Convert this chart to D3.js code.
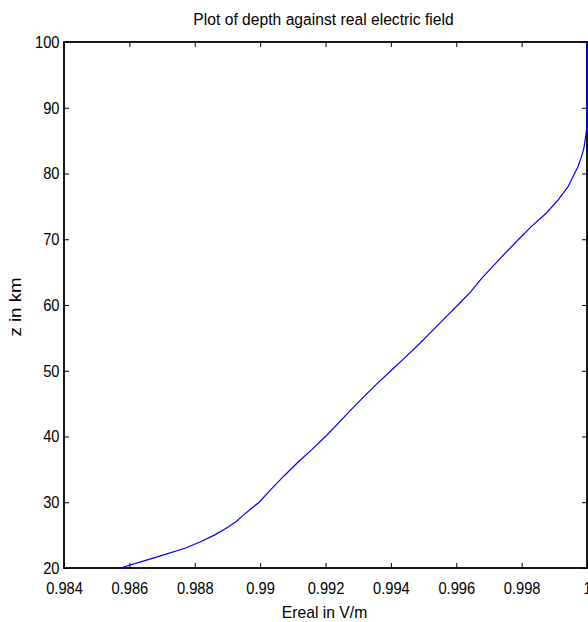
<!DOCTYPE html>
<html>
<head>
<meta charset="utf-8">
<script src="https://cdn.jsdelivr.net/npm/d3@7"></script>
<style>
  body { margin: 0; background: #fff; }
  svg { display: block; }
  text { font-family: "Liberation Sans", Arial, sans-serif; fill: #000; }
  .tick text { font-size: 17px; }
</style>
</head>
<body>
<svg id="chart" width="588" height="622"></svg>
<script>
// depth (km) and real electric field (V/m)
const depth = [20, 21, 22, 23, 24, 25, 26, 27, 28, 29, 30, 32, 34, 36, 38, 40,
    42, 44, 46, 48, 50, 52, 54, 56, 58, 60, 62, 64, 66, 68, 70, 72, 74, 76, 78,
    80, 81, 82, 83, 84, 85, 86, 87, 88, 90, 95, 100];
const ereal = [0.98572, 0.98640, 0.98705, 0.98770, 0.98818, 0.98860, 0.98895, 0.98925,
    0.98948, 0.98972, 0.98997, 0.99034, 0.99073, 0.99114, 0.99158, 0.99200,
    0.99239, 0.99277, 0.99316, 0.99357, 0.99400, 0.99443, 0.99485, 0.99525, 0.99565,
    0.99605, 0.99644, 0.99677, 0.99714, 0.99752, 0.99791, 0.99831, 0.99876, 0.99912,
    0.99942, 0.99962, 0.99972, 0.99979, 0.99986, 0.99991, 0.99994, 0.99997, 0.99999,
    1.0, 1.0, 1.0, 1.0];

const xTicks = [0.984, 0.986, 0.988, 0.99, 0.992, 0.994, 0.996, 0.998, 1];
const yTicks = [20, 30, 40, 50, 60, 70, 80, 90, 100];

const TITLE = 'Plot of depth against real electric field';
const X_LABEL = 'Ereal in V/m';
const Y_LABEL = 'z in km';

const TICK_SX = 0.865; // tick labels are a little narrow in the original
const margin = { left: 64, right: 1, top: 42, bottom: 54 };
const W = 588, H = 622;

const svg = d3.select('#chart');

const x = d3.scaleLinear()
    .domain([0.984, 1])
    .range([margin.left, W - margin.right]);
const y = d3.scaleLinear()
    .domain([20, 100])
    .range([H - margin.bottom, margin.top]);

const fmt = d => String(+d.toFixed(3));

// squeeze tick labels horizontally, keeping their anchor
const squeeze = g => g.selectAll('.tick text').each(function () {
    const t = d3.select(this);
    t.attr('x', (+t.attr('x') || 0) / TICK_SX)
     .attr('transform', `scale(${TICK_SX},1)`);
});

// bottom axis with labels, ticks inward
svg.append('g')
    .attr('transform', `translate(0,${y(20)})`)
    .call(d3.axisBottom(x).tickValues(xTicks).tickFormat(fmt).tickSizeInner(-5).tickSizeOuter(0).tickPadding(14))
    .call(g => g.select('.domain').remove())
    .call(squeeze);

// top axis, ticks only
svg.append('g')
    .attr('transform', `translate(0,${y(100)})`)
    .call(d3.axisTop(x).tickValues(xTicks).tickFormat('').tickSizeInner(-5).tickSizeOuter(0))
    .call(g => g.select('.domain').remove());

// left axis with labels
svg.append('g')
    .attr('transform', `translate(${x(0.984)},0)`)
    .call(d3.axisLeft(y).tickValues(yTicks).tickSizeInner(-5).tickSizeOuter(0).tickPadding(4.5))
    .call(g => g.select('.domain').remove())
    .call(squeeze);

// right axis, ticks only
svg.append('g')
    .attr('transform', `translate(${x(1)},0)`)
    .call(d3.axisRight(y).tickValues(yTicks).tickFormat('').tickSizeInner(-5).tickSizeOuter(0))
    .call(g => g.select('.domain').remove());

svg.selectAll('.tick line').attr('stroke', '#000').attr('stroke-width', 1);

// box
svg.append('rect')
    .attr('x', x(0.984))
    .attr('y', y(100))
    .attr('width', x(1) - x(0.984))
    .attr('height', y(20) - y(100))
    .attr('fill', 'none')
    .attr('stroke', '#000')
    .attr('stroke-width', 1.8);

// curve
const line = d3.line()
    .x((d, i) => x(ereal[i]))
    .y(d => y(d));

svg.append('path')
    .datum(depth)
    .attr('d', line)
    .attr('fill', 'none')
    .attr('stroke', '#0000ff')
    .attr('stroke-width', 1.2);

// texts
svg.append('text')
    .attr('transform', 'translate(323.5,25) scale(0.95,1)')
    .attr('text-anchor', 'middle')
    .style('font-size', '16.5px')
    .text(TITLE);

svg.append('text')
    .attr('transform', 'translate(324.5,618)')
    .attr('text-anchor', 'middle')
    .style('font-size', '15.7px')
    .text(X_LABEL);

svg.append('text')
    .attr('transform', `translate(21,${(y(20) + y(100)) / 2 + 2}) rotate(-90) scale(1.1,1)`)
    .attr('text-anchor', 'middle')
    .style('font-size', '17px')
    .text(Y_LABEL);
</script>
</body>
</html>
